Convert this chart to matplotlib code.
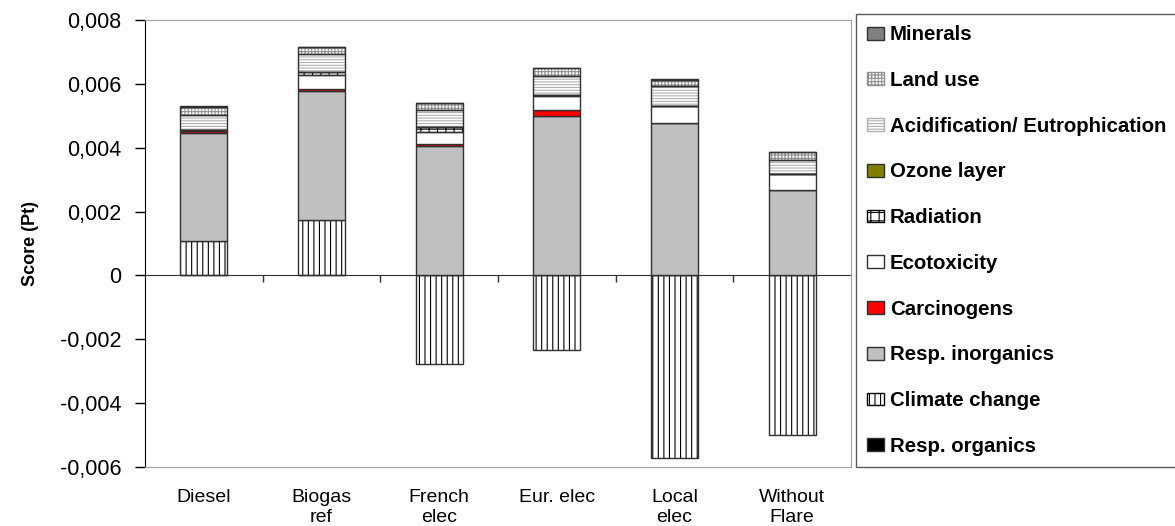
import numpy as np
import matplotlib.pyplot as plt
from matplotlib.patches import Patch

plt.rcParams['font.family'] = ['Liberation Sans', 'DejaVu Sans']
plt.rcParams['hatch.linewidth'] = 0.8

scenarios = ['Diesel', 'Biogas\nref', 'French\nelec', 'Eur. elec', 'Local\nelec', 'Without\nFlare']

# impact category scores (Pt), bottom of stack first
resp_organics = [0.00001, 0.00001, 0.00001, 0.00001, 0.00001, 0.00001]
climate_change = [0.00107, 0.00172, -0.00276, -0.00235, -0.00571, -0.00500]
resp_inorganics = [0.00337, 0.00406, 0.00405, 0.00497, 0.00475, 0.00265]
carcinogens = [0.00007, 0.00005, 0.00005, 0.00020, 0.00001, 0.00001]
ecotoxicity = [0.00003, 0.00043, 0.00039, 0.00043, 0.00053, 0.00050]
radiation = [0.00002, 0.00010, 0.00014, 0.00005, 0.00001, 0.00001]
ozone_layer = [0.0, 0.0, 0.0, 0.0, 0.0, 0.0]
acidification = [0.00046, 0.00055, 0.00053, 0.00060, 0.00061, 0.00045]
land_use = [0.00026, 0.00022, 0.00023, 0.00024, 0.00021, 0.00023]
minerals = [0.00001, 0.00001, 0.00001, 0.00001, 0.00001, 0.00001]

ytick_vals = [-0.006, -0.004, -0.002, 0, 0.002, 0.004, 0.006, 0.008]
ytick_labels = ['-0,006', '-0,004', '-0,002', '0', '0,002', '0,004', '0,006', '0,008']

# (label, values, facecolor, hatch, hatchcolor)
series = [
    ('Resp. organics', resp_organics, 'black', None, None),
    ('Climate change', climate_change, 'white', '|||', 'black'),
    ('Resp. inorganics', resp_inorganics, '#c0c0c0', None, None),
    ('Carcinogens', carcinogens, '#ff0000', None, None),
    ('Ecotoxicity', ecotoxicity, 'white', None, None),
    ('Radiation', radiation, 'white', '++', 'black'),
    ('Ozone layer', ozone_layer, '#808000', None, None),
    ('Acidification/ Eutrophication', acidification, 'white', '------', '#b0b0b0'),
    ('Land use', land_use, 'white', '+++++', '#909090'),
    ('Minerals', minerals, '#808080', None, None),
]

fig = plt.figure(figsize=(11.75, 5.26), dpi=100)
ax = fig.add_axes([145 / 1175, 1 - 467 / 526, 706 / 1175, 447 / 526])

x = np.arange(len(scenarios))
width = 0.4
pos_base = np.zeros(len(x))
neg_base = np.zeros(len(x))
handles = []
for label, vals, fc, hatch, hc in series:
    vals = np.array(vals)
    bottom = np.where(vals >= 0, pos_base, neg_base)
    if hatch:
        ax.bar(x, vals, width, bottom=bottom, color=fc, edgecolor=hc,
               hatch=hatch, linewidth=0, zorder=2)
        ax.bar(x, vals, width, bottom=bottom, fill=False,
               edgecolor='#303030', linewidth=1.0, zorder=3)
        handles.append(Patch(facecolor=fc, edgecolor=hc, hatch=hatch, label=label))
    else:
        ax.bar(x, vals, width, bottom=bottom, color=fc,
               edgecolor='#303030', linewidth=1.0, zorder=3)
        handles.append(Patch(facecolor=fc, edgecolor='#303030', label=label))
    pos_base += np.where(vals >= 0, vals, 0)
    neg_base += np.where(vals < 0, vals, 0)

ax.set_xlim(-0.5, len(x) - 0.5)
ax.set_ylim(-0.006, 0.008)
ax.set_yticks(ytick_vals)
ax.set_yticklabels(ytick_labels, fontsize=15.5)
ax.tick_params(axis='y', direction='out', length=7, width=1, pad=10)
ax.set_xticks(x)
ax.set_xticklabels(scenarios, fontsize=14, linespacing=1.25)
ax.tick_params(axis='x', length=0, pad=16)
ax.set_ylabel('Score (Pt)', fontsize=13, fontweight='bold', labelpad=15)

for side in ['top', 'right', 'bottom']:
    ax.spines[side].set_color('#a0a0a0')
ax.spines['left'].set_color('black')

# zero line with category separator ticks
zero_frac = (0 - ax.get_ylim()[0]) / (ax.get_ylim()[1] - ax.get_ylim()[0])
sec = ax.secondary_xaxis(zero_frac)
sec.set_xticks(np.arange(0.5, len(x) - 0.5, 1.0))
sec.set_xticklabels([])
sec.tick_params(direction='out', length=5, width=1, color='#303030')
sec.spines['bottom'].set_color('#303030')
sec.spines['bottom'].set_zorder(4)

leg = fig.legend(handles=handles[::-1], loc='upper left',
                 bbox_to_anchor=(856 / 1175, 1 - 14 / 526),
                 frameon=True, fancybox=False, edgecolor='#303030',
                 prop={'size': 14.7, 'weight': 'bold'},
                 handlelength=0.8, handleheight=0.6, handletextpad=0.3,
                 labelspacing=1.31, borderpad=0.55, borderaxespad=0)
leg.get_frame().set_linewidth(1.0)

fig.savefig('out.png', dpi=100)
